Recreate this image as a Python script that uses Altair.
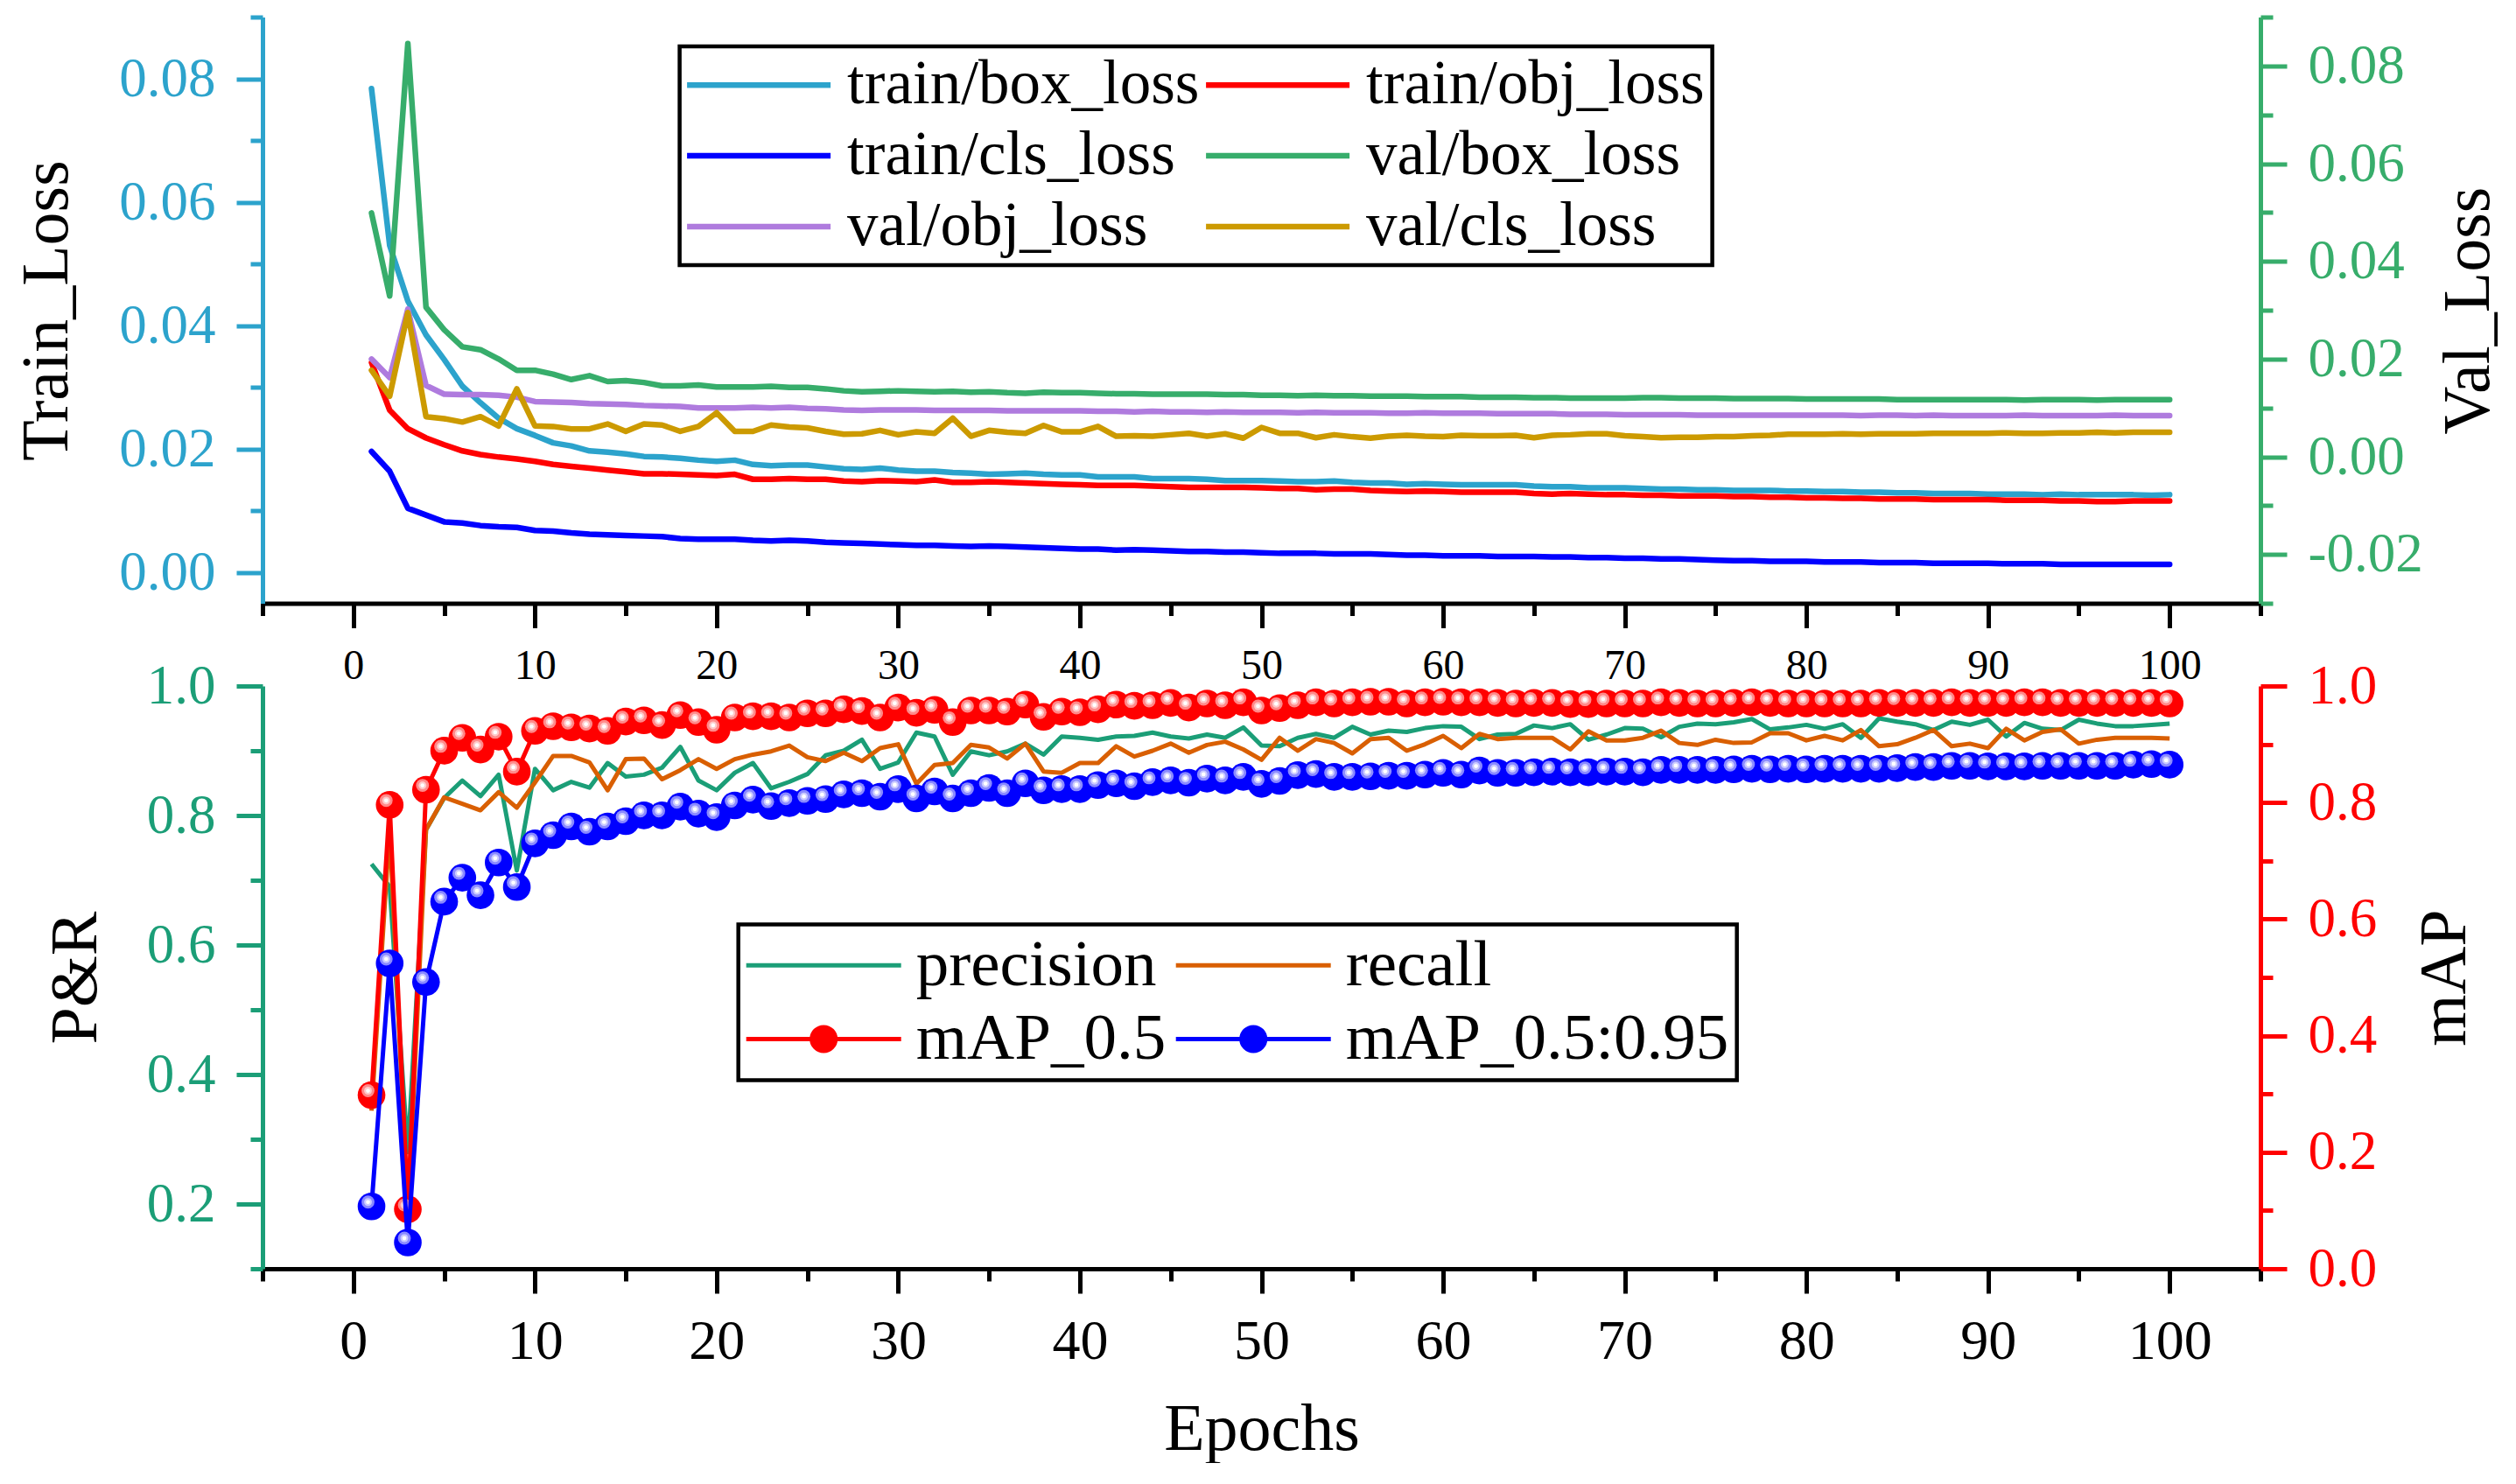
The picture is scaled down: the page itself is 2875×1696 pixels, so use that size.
import altair as alt
import pandas as pd

FONT = "Liberation Serif"
W, H_TOP, H_BOT = 2283, 670, 666

epochs = list(range(1, 101))

train_box_loss = [
    0.0784, 0.0530, 0.0440, 0.0385, 0.0345, 0.0302, 0.0275, 0.0250, 0.0233, 0.0222,
    0.0210, 0.0205, 0.0197, 0.0195, 0.0192, 0.0188, 0.0187, 0.0185, 0.0182, 0.0180,
    0.0182, 0.0175, 0.0173, 0.0174, 0.0174, 0.0171, 0.0168, 0.0167, 0.0169, 0.0166,
    0.0164, 0.0164, 0.0162, 0.0161, 0.0159, 0.0160, 0.0161, 0.0159, 0.0158, 0.0158,
    0.0155, 0.0155, 0.0155, 0.0152, 0.0152, 0.0152, 0.0151, 0.0149, 0.0149, 0.0149,
    0.0148, 0.0147, 0.0147, 0.0148, 0.0146, 0.0145, 0.0145, 0.0143, 0.0144, 0.0143,
    0.0142, 0.0142, 0.0142, 0.0142, 0.0140, 0.0139, 0.0139, 0.0137, 0.0137, 0.0137,
    0.0136, 0.0135, 0.0135, 0.0134, 0.0134, 0.0133, 0.0133, 0.0133, 0.0132, 0.0132,
    0.0131, 0.0131, 0.0130, 0.0130, 0.0129, 0.0129, 0.0128, 0.0128, 0.0128, 0.0127,
    0.0127, 0.0127, 0.0126, 0.0127, 0.0126, 0.0126, 0.0126, 0.0126, 0.0125, 0.0126,
]
train_obj_loss = [
    0.0340, 0.0263, 0.0233, 0.0218, 0.0207, 0.0197, 0.0191, 0.0187, 0.0184, 0.0180,
    0.0175, 0.0172, 0.0169, 0.0166, 0.0163, 0.0160, 0.0160, 0.0159, 0.0158, 0.0157,
    0.0159, 0.0151, 0.0151, 0.0152, 0.0151, 0.0151, 0.0148, 0.0147, 0.0149, 0.0148,
    0.0147, 0.0150, 0.0146, 0.0146, 0.0147, 0.0146, 0.0145, 0.0144, 0.0143, 0.0142,
    0.0141, 0.0141, 0.0141, 0.0140, 0.0139, 0.0138, 0.0138, 0.0138, 0.0138, 0.0137,
    0.0136, 0.0136, 0.0134, 0.0135, 0.0135, 0.0133, 0.0132, 0.0131, 0.0132, 0.0131,
    0.0130, 0.0130, 0.0130, 0.0130, 0.0128, 0.0127, 0.0128, 0.0127, 0.0126, 0.0126,
    0.0125, 0.0125, 0.0124, 0.0124, 0.0124, 0.0123, 0.0123, 0.0122, 0.0122, 0.0121,
    0.0121, 0.0120, 0.0120, 0.0119, 0.0119, 0.0119, 0.0118, 0.0118, 0.0118, 0.0118,
    0.0117, 0.0117, 0.0117, 0.0116, 0.0116, 0.0115, 0.0115, 0.0116, 0.0116, 0.0116,
]
train_cls_loss = [
    0.0196, 0.0164, 0.0104, 0.0093, 0.0082, 0.0080, 0.0076, 0.0074, 0.0073, 0.0068,
    0.0067, 0.0064, 0.0062, 0.0061, 0.0060, 0.0059, 0.0058, 0.0055, 0.0054, 0.0054,
    0.0054, 0.0052, 0.0051, 0.0052, 0.0051, 0.0049, 0.0048, 0.0047, 0.0046, 0.0045,
    0.0044, 0.0044, 0.0043, 0.0042, 0.0043, 0.0042, 0.0041, 0.0040, 0.0039, 0.0038,
    0.0038, 0.0036, 0.0037, 0.0036, 0.0035, 0.0034, 0.0034, 0.0033, 0.0033, 0.0032,
    0.0031, 0.0031, 0.0031, 0.0030, 0.0030, 0.0030, 0.0029, 0.0028, 0.0028, 0.0027,
    0.0027, 0.0027, 0.0026, 0.0026, 0.0026, 0.0025, 0.0025, 0.0024, 0.0024, 0.0023,
    0.0023, 0.0022, 0.0022, 0.0021, 0.0020, 0.0019, 0.0019, 0.0018, 0.0018, 0.0018,
    0.0017, 0.0017, 0.0017, 0.0016, 0.0016, 0.0016, 0.0015, 0.0015, 0.0015, 0.0015,
    0.0014, 0.0014, 0.0014, 0.0013, 0.0013, 0.0013, 0.0013, 0.0013, 0.0013, 0.0013,
]
val_box_loss = [
    0.0499, 0.0329, 0.0846, 0.0306, 0.0260, 0.0225, 0.0219, 0.0200, 0.0177, 0.0177,
    0.0169, 0.0158, 0.0166, 0.0154, 0.0156, 0.0152, 0.0145, 0.0145, 0.0147, 0.0143,
    0.0143, 0.0143, 0.0144, 0.0142, 0.0142, 0.0139, 0.0135, 0.0133, 0.0134, 0.0135,
    0.0134, 0.0133, 0.0134, 0.0132, 0.0133, 0.0131, 0.0130, 0.0132, 0.0131, 0.0131,
    0.0130, 0.0129, 0.0129, 0.0128, 0.0128, 0.0128, 0.0128, 0.0127, 0.0127, 0.0126,
    0.0126, 0.0125, 0.0126, 0.0125, 0.0125, 0.0124, 0.0124, 0.0124, 0.0123, 0.0123,
    0.0123, 0.0122, 0.0122, 0.0122, 0.0121, 0.0121, 0.0120, 0.0120, 0.0120, 0.0120,
    0.0121, 0.0121, 0.0120, 0.0120, 0.0120, 0.0119, 0.0119, 0.0119, 0.0119, 0.0118,
    0.0118, 0.0118, 0.0118, 0.0118, 0.0117, 0.0117, 0.0117, 0.0117, 0.0117, 0.0117,
    0.0117, 0.0116, 0.0117, 0.0117, 0.0117, 0.0116, 0.0117, 0.0117, 0.0117, 0.0117,
]
val_obj_loss = [
    0.0200, 0.0162, 0.0302, 0.0146, 0.0128, 0.0127, 0.0127, 0.0126, 0.0122, 0.0113,
    0.0112, 0.0111, 0.0109, 0.0108, 0.0107, 0.0105, 0.0104, 0.0103, 0.0100, 0.0100,
    0.0100, 0.0101, 0.0100, 0.0101, 0.0099, 0.0098, 0.0096, 0.0095, 0.0096, 0.0096,
    0.0096, 0.0095, 0.0095, 0.0095, 0.0095, 0.0094, 0.0094, 0.0094, 0.0094, 0.0094,
    0.0093, 0.0093, 0.0092, 0.0093, 0.0092, 0.0092, 0.0091, 0.0092, 0.0091, 0.0091,
    0.0091, 0.0090, 0.0091, 0.0090, 0.0090, 0.0090, 0.0089, 0.0089, 0.0090, 0.0089,
    0.0089, 0.0089, 0.0088, 0.0088, 0.0088, 0.0088, 0.0087, 0.0087, 0.0087, 0.0086,
    0.0086, 0.0086, 0.0086, 0.0085, 0.0085, 0.0085, 0.0085, 0.0085, 0.0085, 0.0085,
    0.0085, 0.0085, 0.0084, 0.0085, 0.0085, 0.0084, 0.0085, 0.0084, 0.0084, 0.0084,
    0.0084, 0.0085, 0.0084, 0.0084, 0.0084, 0.0084, 0.0085, 0.0084, 0.0084, 0.0084,
]
val_cls_loss = [
    0.0177, 0.0124, 0.0295, 0.0082, 0.0078, 0.0071, 0.0082, 0.0063, 0.0139, 0.0063,
    0.0062, 0.0057, 0.0057, 0.0067, 0.0052, 0.0067, 0.0065, 0.0052, 0.0062, 0.0090,
    0.0052, 0.0052, 0.0065, 0.0061, 0.0059, 0.0052, 0.0046, 0.0047, 0.0054, 0.0045,
    0.0051, 0.0048, 0.0079, 0.0042, 0.0054, 0.0050, 0.0048, 0.0064, 0.0051, 0.0051,
    0.0062, 0.0042, 0.0043, 0.0042, 0.0045, 0.0048, 0.0042, 0.0047, 0.0038, 0.0060,
    0.0048, 0.0048, 0.0039, 0.0045, 0.0041, 0.0038, 0.0042, 0.0044, 0.0042, 0.0041,
    0.0044, 0.0043, 0.0043, 0.0044, 0.0039, 0.0044, 0.0045, 0.0047, 0.0047, 0.0043,
    0.0041, 0.0039, 0.0040, 0.0040, 0.0041, 0.0041, 0.0043, 0.0044, 0.0046, 0.0046,
    0.0046, 0.0047, 0.0046, 0.0047, 0.0047, 0.0047, 0.0048, 0.0048, 0.0048, 0.0048,
    0.0049, 0.0048, 0.0048, 0.0049, 0.0049, 0.0050, 0.0049, 0.0050, 0.0050, 0.0050,
]

precision = [
    0.725, 0.690, 0.280, 0.778, 0.827, 0.854, 0.830, 0.863, 0.715, 0.872,
    0.839, 0.852, 0.843, 0.881, 0.860, 0.863, 0.874, 0.906, 0.854, 0.839,
    0.866, 0.881, 0.842, 0.852, 0.864, 0.893, 0.900, 0.917, 0.872, 0.882,
    0.928, 0.922, 0.863, 0.899, 0.893, 0.899, 0.911, 0.894, 0.922, 0.920,
    0.917, 0.922, 0.923, 0.928, 0.922, 0.919, 0.925, 0.920, 0.936, 0.908,
    0.907, 0.920, 0.926, 0.920, 0.937, 0.925, 0.931, 0.929, 0.935, 0.938,
    0.937, 0.918, 0.925, 0.926, 0.939, 0.935, 0.941, 0.917, 0.925, 0.935,
    0.934, 0.921, 0.937, 0.942, 0.941, 0.944, 0.949, 0.933, 0.936, 0.940,
    0.934, 0.941, 0.920, 0.950, 0.945, 0.941, 0.932, 0.945, 0.940, 0.948,
    0.922, 0.943, 0.934, 0.932, 0.948, 0.942, 0.938, 0.938, 0.940, 0.942,
]
recall = [
    0.344, 0.780, 0.180, 0.778, 0.828, 0.818, 0.808, 0.836, 0.812, 0.851,
    0.892, 0.892, 0.882, 0.839, 0.887, 0.888, 0.856, 0.870, 0.887, 0.872,
    0.887, 0.894, 0.899, 0.908, 0.890, 0.884, 0.897, 0.884, 0.904, 0.910,
    0.849, 0.878, 0.881, 0.909, 0.905, 0.888, 0.911, 0.868, 0.866, 0.881,
    0.881, 0.907, 0.891, 0.900, 0.911, 0.897, 0.909, 0.914, 0.902, 0.886,
    0.920, 0.900, 0.918, 0.912, 0.896, 0.918, 0.920, 0.900, 0.910, 0.923,
    0.904, 0.926, 0.918, 0.920, 0.920, 0.920, 0.902, 0.930, 0.916, 0.916,
    0.920, 0.931, 0.912, 0.909, 0.917, 0.912, 0.913, 0.927, 0.927, 0.916,
    0.923, 0.916, 0.932, 0.907, 0.910, 0.920, 0.932, 0.907, 0.911, 0.904,
    0.934, 0.916, 0.929, 0.933, 0.911, 0.917, 0.920, 0.920, 0.920, 0.919,
]
map_50 = [
    0.298, 0.796, 0.102, 0.822, 0.889, 0.911, 0.891, 0.913, 0.853, 0.923,
    0.931, 0.929, 0.927, 0.923, 0.939, 0.941, 0.933, 0.950, 0.938, 0.925,
    0.946, 0.948, 0.948, 0.946, 0.953, 0.953, 0.960, 0.957, 0.946, 0.963,
    0.954, 0.959, 0.938, 0.958, 0.958, 0.956, 0.968, 0.947, 0.956, 0.955,
    0.960, 0.968, 0.966, 0.967, 0.971, 0.963, 0.970, 0.967, 0.972, 0.958,
    0.962, 0.967, 0.972, 0.970, 0.972, 0.973, 0.973, 0.970, 0.972, 0.973,
    0.972, 0.972, 0.971, 0.970, 0.971, 0.971, 0.969, 0.969, 0.970, 0.970,
    0.970, 0.972, 0.971, 0.970, 0.970, 0.971, 0.972, 0.971, 0.970, 0.970,
    0.970, 0.970, 0.970, 0.971, 0.971, 0.971, 0.971, 0.972, 0.971, 0.971,
    0.971, 0.972, 0.972, 0.971, 0.971, 0.971, 0.971, 0.971, 0.971, 0.970,
]
map_50_95 = [
    0.107, 0.524, 0.045, 0.492, 0.630, 0.671, 0.641, 0.697, 0.655, 0.730,
    0.744, 0.759, 0.750, 0.759, 0.768, 0.778, 0.778, 0.793, 0.781, 0.775,
    0.795, 0.805, 0.794, 0.799, 0.803, 0.806, 0.814, 0.816, 0.810, 0.823,
    0.807, 0.819, 0.807, 0.816, 0.825, 0.816, 0.833, 0.821, 0.823, 0.823,
    0.830, 0.833, 0.828, 0.835, 0.838, 0.834, 0.841, 0.838, 0.844, 0.832,
    0.837, 0.847, 0.849, 0.844, 0.844, 0.845, 0.846, 0.846, 0.848, 0.851,
    0.848, 0.855, 0.851, 0.851, 0.852, 0.853, 0.852, 0.852, 0.853, 0.853,
    0.852, 0.856, 0.856, 0.856, 0.856, 0.857, 0.858, 0.857, 0.858, 0.857,
    0.858, 0.858, 0.858, 0.858, 0.859, 0.861, 0.861, 0.863, 0.863, 0.862,
    0.862, 0.862, 0.863, 0.863, 0.863, 0.863, 0.863, 0.865, 0.866, 0.865,
]

loss_names = ["train/box_loss", "train/obj_loss", "train/cls_loss",
              "val/box_loss", "val/obj_loss", "val/cls_loss"]
loss_colors = ["#2CA3CC", "#FF0000", "#0000FF", "#37AD6B", "#AF7BDE", "#CC9A00"]
metric_names = ["precision", "recall", "mAP_0.5", "mAP_0.5:0.95"]
metric_colors = ["#1B9E77", "#D95F02", "#FF0000", "#0000FF"]

x_major = [0, 10, 20, 30, 40, 50, 60, 70, 80, 90, 100]
x_minor = [-5, 5, 15, 25, 35, 45, 55, 65, 75, 85, 95, 105]
train_major = [0.0, 0.02, 0.04, 0.06, 0.08]
train_minor = [0.01, 0.03, 0.05, 0.07, 0.09]
val_major = [-0.02, 0.0, 0.02, 0.04, 0.06, 0.08]
val_minor = [-0.03, -0.01, 0.01, 0.03, 0.05, 0.07, 0.09]
pr_major = [0.2, 0.4, 0.6, 0.8, 1.0]
pr_minor = [0.1, 0.3, 0.5, 0.7, 0.9]
map_major = [0.0, 0.2, 0.4, 0.6, 0.8, 1.0]
map_minor = [0.1, 0.3, 0.5, 0.7, 0.9]

C_TRAIN, C_VAL, C_PR, C_MAP = "#2CA3CC", "#37AD6B", "#1B9E77", "#FF0000"


def long_frame(names, columns):
    rows = []
    for name, col in zip(names, columns):
        for e, v in zip(epochs, col):
            rows.append({"epoch": e, "value": v, "series": name})
    return pd.DataFrame(rows)


train_df = long_frame(loss_names[:3], [train_box_loss, train_obj_loss, train_cls_loss])
val_df = long_frame(loss_names[3:], [val_box_loss, val_obj_loss, val_cls_loss])
pr_df = long_frame(metric_names[:2], [precision, recall])
m50_df = long_frame(["mAP_0.5"], [map_50])
m95_df = long_frame(["mAP_0.5:0.95"], [map_50_95])
map_df = pd.concat([m50_df, m95_df])

x_scale = alt.Scale(domain=[-5, 105], nice=False, zero=False)
train_scale = alt.Scale(domain=[-0.005, 0.09], nice=False, zero=False)
val_scale = alt.Scale(domain=[-0.03, 0.09], nice=False, zero=False)
pr_scale = alt.Scale(domain=[0.1, 1.0], nice=False, zero=False)
map_scale = alt.Scale(domain=[0.0, 1.0], nice=False, zero=False)
loss_color = alt.Scale(domain=loss_names, range=loss_colors)
metric_color = alt.Scale(domain=metric_names, range=metric_colors)


def major_y(orient, color, values, title, title_x, height, **extra):
    return alt.Axis(
        orient=orient, values=values, title=title, grid=False,
        domainColor=color, domainWidth=5, tickColor=color, tickWidth=5, tickSize=30,
        labelColor=color, labelFont=FONT, labelFontSize=63, labelPadding=24,
        labelOverlap=False, labelFlush=False,
        titleFont=FONT, titleFontSize=76, titleFontWeight="normal", titleColor="black",
        titleAngle=270, titleAlign="center", titleBaseline="alphabetic",
        titleX=title_x, titleY=height / 2, **extra)


def minor_axis(orient, color, values):
    return alt.Axis(orient=orient, values=values, title=None, labels=False,
                    domain=False, grid=False, tickColor=color, tickWidth=5, tickSize=14)


def x_axis(label_size, pad, **extra):
    return alt.Axis(
        orient="bottom", values=x_major, grid=False,
        domainColor="black", domainWidth=5, tickColor="black", tickWidth=5, tickSize=28,
        labelColor="black", labelFont=FONT, labelFontSize=label_size, labelPadding=pad,
        labelOverlap=False, labelFlush=False, **extra)


# ---- top panel: losses ----
top_legend = alt.Legend(
    orient="none", legendX=476.6, legendY=33.4, columns=2, direction="horizontal",
    title=None, symbolType="M-4,0H4", symbolSize=1681, symbolStrokeWidth=6.5,
    symbolOffset=46.5, symbolOpacity=1, labelFont=FONT, labelFontSize=71,
    labelColor="black", labelLimit=1200, labelOffset=65.5, columnPadding=-6,
    rowPadding=9, padding=8.5, strokeColor="black")

train_lines = alt.Chart(train_df).mark_line(
    strokeWidth=6.5, strokeCap="round", strokeJoin="round").encode(
    x=alt.X("epoch:Q", scale=x_scale, axis=x_axis(48, 20, title=None)),
    y=alt.Y("value:Q", scale=train_scale,
            axis=major_y("left", C_TRAIN, train_major, "Train_Loss", -224, H_TOP, format=".2f")),
    color=alt.Color("series:N", scale=loss_color, legend=top_legend),
)
train_ticks = alt.Chart(train_df).mark_point(opacity=0).encode(
    x=alt.X("epoch:Q", scale=x_scale, axis=minor_axis("bottom", "black", x_minor)),
    y=alt.Y("value:Q", scale=train_scale, axis=minor_axis("left", C_TRAIN, train_minor)),
)
val_lines = alt.Chart(val_df).mark_line(
    strokeWidth=6.5, strokeCap="round", strokeJoin="round").encode(
    x=alt.X("epoch:Q", scale=x_scale, axis=None),
    y=alt.Y("value:Q", scale=val_scale,
            axis=major_y("right", C_VAL, val_major, "Val_Loss", 260, H_TOP,
                         labelExpr="datum.value < 0 ? '-' + format(-datum.value, '.2f') : format(datum.value, '.2f')")),
    color=alt.Color("series:N", scale=loss_color, legend=top_legend),
)
val_ticks = alt.Chart(val_df).mark_point(opacity=0).encode(
    x=alt.X("epoch:Q", scale=x_scale, axis=None),
    y=alt.Y("value:Q", scale=val_scale, axis=minor_axis("right", C_VAL, val_minor)),
)

top = alt.layer(
    alt.layer(train_lines, train_ticks).resolve_axis(x="independent", y="independent"),
    alt.layer(val_lines, val_ticks).resolve_axis(y="independent"),
).resolve_scale(y="independent").properties(width=W, height=H_TOP)

# ---- bottom panel: metrics ----
half = 4.317
line_path = f"M{-half},0H{half}"
ball_path = line_path + "".join(
    f"M{-r},0A{r} {r} 0 1 0 {r},0A{r} {r} 0 1 0 {-r},0" for r in [0.659, 0.488, 0.317, 0.146])

# legend position is measured from the top panel's plot origin
bottom_legend = alt.Legend(
    orient="none", legendX=543.7, legendY=1037, columns=2, direction="horizontal",
    title=None, symbolSize=1681, symbolStrokeWidth=5, symbolOffset=51, symbolOpacity=1,
    labelFont=FONT, labelFontSize=75, labelColor="black", labelLimit=1200,
    labelOffset=68, columnPadding=1, rowPadding=8.4, padding=9, strokeColor="black")

pr_lines = alt.Chart(pr_df).mark_line(strokeWidth=5, strokeJoin="round").encode(
    x=alt.X("epoch:Q", scale=x_scale,
            axis=x_axis(64, 23, title="Epochs", titleFont=FONT, titleFontSize=76,
                        titleFontWeight="normal", titleColor="black",
                        titleBaseline="alphabetic", titleAlign="center",
                        titleX=W / 2, titleY=206.5)),
    y=alt.Y("value:Q", scale=pr_scale,
            axis=major_y("left", C_PR, pr_major, "P&R", -190.5, H_BOT, format=".1f")),
    stroke=alt.Stroke("series:N", scale=metric_color, legend=bottom_legend),
)
pr_ticks = alt.Chart(pr_df).mark_point(opacity=0).encode(
    x=alt.X("epoch:Q", scale=x_scale, axis=minor_axis("bottom", "black", x_minor)),
    y=alt.Y("value:Q", scale=pr_scale, axis=minor_axis("left", C_PR, pr_minor)),
)


def map_line(df, axis):
    return alt.Chart(df).mark_line(strokeWidth=5, strokeJoin="round").encode(
        x=alt.X("epoch:Q", scale=x_scale, axis=None),
        y=alt.Y("value:Q", scale=map_scale, axis=axis),
        stroke=alt.Stroke("series:N", scale=metric_color, legend=bottom_legend),
    )


def balls(df, base, mid, light):
    enc = dict(x=alt.X("epoch:Q", scale=x_scale, axis=None),
               y=alt.Y("value:Q", scale=map_scale, axis=None))
    return [
        alt.Chart(df).mark_circle(size=1000, opacity=1, color=base).encode(**enc),
        alt.Chart(df).mark_circle(size=220, opacity=1, color=mid, xOffset=-4, yOffset=-5).encode(**enc),
        alt.Chart(df).mark_circle(size=80, opacity=1, color=light, xOffset=-4, yOffset=-5).encode(**enc),
        alt.Chart(df).mark_circle(size=22, opacity=1, color="white", xOffset=-4, yOffset=-5).encode(**enc),
    ]


legend_shapes = alt.Chart(map_df).mark_point(opacity=0).encode(
    x=alt.X("epoch:Q", scale=x_scale, axis=None),
    y=alt.Y("value:Q", scale=map_scale, axis=minor_axis("right", C_MAP, map_minor)),
    shape=alt.Shape("series:N",
                    scale=alt.Scale(domain=metric_names,
                                    range=[line_path, line_path, ball_path, ball_path]),
                    legend=bottom_legend),
)

map_layers = alt.layer(
    map_line(m50_df, major_y("right", C_MAP, map_major, "mAP", 233, H_BOT, format=".1f")),
    *balls(m50_df, "#FF0000", "#FF8A8A", "#FFCACA"),
    map_line(m95_df, None),
    *balls(m95_df, "#0000FF", "#8A8AFF", "#CACAFF"),
    legend_shapes,
).resolve_axis(y="independent")

bottom = alt.layer(
    alt.layer(pr_lines, pr_ticks).resolve_axis(x="independent", y="independent"),
    map_layers,
).resolve_scale(y="independent").properties(width=W, height=H_BOT)

chart = alt.vconcat(top, bottom, spacing=94.5, bounds="flush").properties(
    padding={"left": 7, "top": 8.5, "right": 0, "bottom": 0}
).configure_view(stroke=None).configure_legend(strokeWidth=4.5)

chart.save("out.html", embed_options={"renderer": "svg", "actions": False})
